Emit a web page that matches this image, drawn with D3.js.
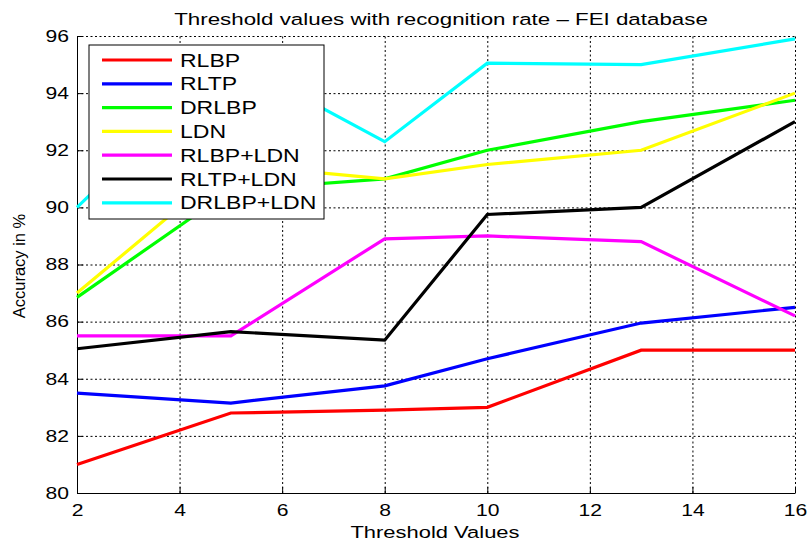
<!DOCTYPE html>
<html>
<head>
<meta charset="utf-8">
<script src="https://cdn.jsdelivr.net/npm/d3@7"></script>
<style>
  body { margin: 0; background: #fff; }
  text { font-family: "Liberation Sans", Arial, sans-serif; fill: #000; }
  .grid line { stroke: #000; stroke-width: 1; stroke-dasharray: 2,2.5; }
  .grid path { display: none; }
</style>
</head>
<body>
<div id="chart"></div>
<script>
// chart values
var thresholds = [2, 5, 8, 10, 13, 16];
var rlbp     = [81.0, 82.8, 82.9, 83.0, 85.0, 85.0];
var rltp     = [83.5, 83.15, 83.75, 84.7, 85.95, 86.5];
var drlbp    = [86.85, 90.6, 91.0, 92.0, 93.0, 93.75];
var ldn      = [87.0, 91.5, 91.0, 91.5, 92.0, 94.0];
var rlbpLdn  = [85.5, 85.5, 88.9, 89.0, 88.8, 86.2];
var rltpLdn  = [85.05, 85.65, 85.35, 89.75, 90.0, 93.0];
var drlbpLdn = [90.0, 95.2, 92.3, 95.05, 95.0, 95.9];

var seriesNames = ["RLBP", "RLTP", "DRLBP", "LDN", "RLBP+LDN", "RLTP+LDN", "DRLBP+LDN"];
var seriesValues = [rlbp, rltp, drlbp, ldn, rlbpLdn, rltpLdn, drlbpLdn];
var seriesColors = ["#ff0000", "#0000ff", "#00ff00", "#ffff00", "#ff00ff", "#000000", "#00ffff"];

var xTicks = [2, 4, 6, 8, 10, 12, 14, 16];
var yTicks = [80, 82, 84, 86, 88, 90, 92, 94, 96];

var svgWidth = 807;
var svgHeight = 543;
var margin = { top: 36, right: 12, bottom: 50, left: 77 };
var width = svgWidth - margin.left - margin.right;
var height = svgHeight - margin.top - margin.bottom;

// text in the picture is stretched sideways
var stretch = "scale(1.28,1)";
var wideStretch = "scale(1.33,1)";

var svg = d3.select("#chart")
  .append("svg")
  .attr("width", svgWidth)
  .attr("height", svgHeight);

var chartGroup = svg.append("g")
  .attr("transform", `translate(${margin.left}, ${margin.top})`);

var xScale = d3.scaleLinear().domain([2, 16]).range([0, width]);
var yScale = d3.scaleLinear().domain([80, 96]).range([height, 0]);

// dotted grid
chartGroup.append("g")
  .attr("class", "grid")
  .attr("transform", `translate(0, ${height})`)
  .call(d3.axisBottom(xScale).tickValues(xTicks).tickSize(-height).tickFormat(""));

chartGroup.append("g")
  .attr("class", "grid")
  .call(d3.axisLeft(yScale).tickValues(yTicks).tickSize(-width).tickFormat(""));

// axes with inward ticks
var bottomAxis = d3.axisBottom(xScale).tickValues(xTicks).tickSizeInner(-6).tickSizeOuter(0).tickPadding(11);
var leftAxis = d3.axisLeft(yScale).tickValues(yTicks).tickSizeInner(-6).tickSizeOuter(0);

var xAxisG = chartGroup.append("g")
  .attr("transform", `translate(0, ${height})`)
  .call(bottomAxis);

var yAxisG = chartGroup.append("g")
  .call(leftAxis);

[xAxisG, yAxisG].forEach(function(g) {
  g.selectAll("path, line").attr("stroke", "#000");
  g.selectAll("text")
    .attr("font-size", 16.5)
    .attr("font-family", "Liberation Sans, Arial, sans-serif")
    .attr("fill", "#000")
    .attr("transform", stretch);
});
yAxisG.selectAll("text").attr("x", -6.3);

// lines
var line = d3.line()
  .x(function(d, i) { return xScale(thresholds[i]); })
  .y(function(d) { return yScale(d); });

seriesValues.forEach(function(vals, i) {
  chartGroup.append("path")
    .datum(vals)
    .attr("fill", "none")
    .attr("stroke", seriesColors[i])
    .attr("stroke-width", 3.2)
    .attr("stroke-linejoin", "miter")
    .attr("d", line);
});

// legend
var legend = svg.append("g").attr("transform", "translate(89, 45)");
legend.append("rect")
  .attr("width", 235)
  .attr("height", 174)
  .attr("fill", "#fff")
  .attr("stroke", "#000")
  .attr("stroke-width", 1);

seriesNames.forEach(function(name, i) {
  var yy = 15 + i * 23.8;
  legend.append("line")
    .attr("x1", 13).attr("x2", 83)
    .attr("y1", yy).attr("y2", yy)
    .attr("stroke", seriesColors[i])
    .attr("stroke-width", 3.2);
  legend.append("text")
    .attr("transform", `translate(91, ${yy + 6.5}) ${stretch}`)
    .attr("font-size", 18)
    .text(name);
});

// title and axis labels
svg.append("text")
  .attr("transform", `translate(441, 25) ${wideStretch}`)
  .attr("text-anchor", "middle")
  .attr("font-size", 16.8)
  .text("Threshold values with recognition rate \u2013 FEI database");

svg.append("text")
  .attr("transform", `translate(435, 538) ${wideStretch}`)
  .attr("text-anchor", "middle")
  .attr("font-size", 16.5)
  .text("Threshold Values");

svg.append("text")
  .attr("transform", "translate(25, 266) rotate(-90)")
  .attr("text-anchor", "middle")
  .attr("font-size", 16.5)
  .text("Accuracy in %");
</script>
</body>
</html>
